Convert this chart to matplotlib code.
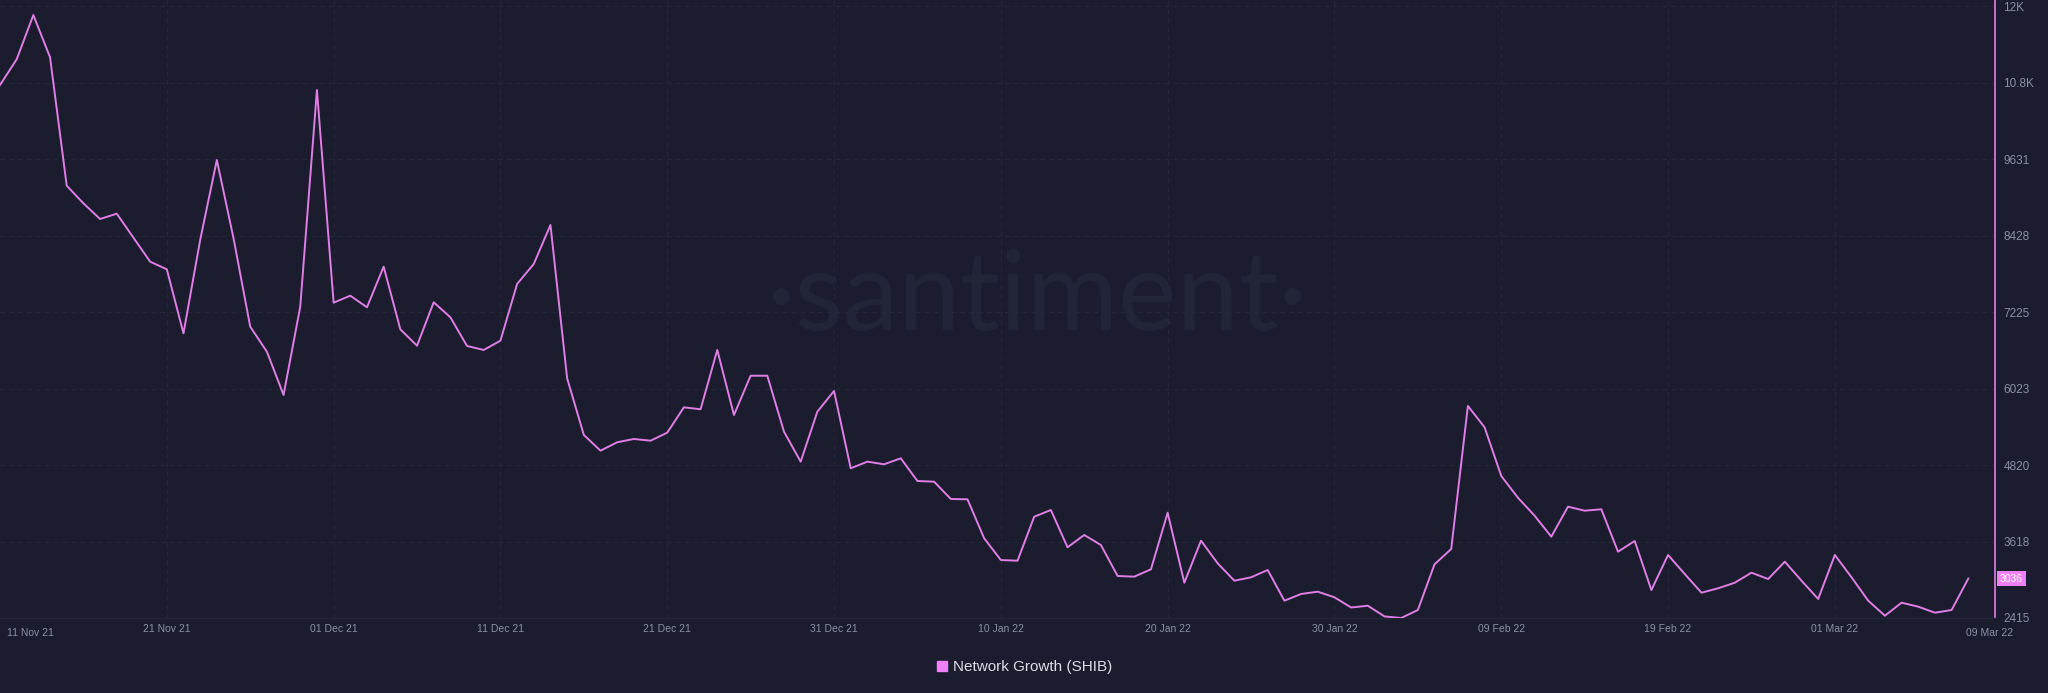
"""Santiment-style network growth chart for SHIB, dark theme."""
import matplotlib
matplotlib.use("Agg")
import matplotlib.pyplot as plt
import matplotlib.dates as mdates
import matplotlib.transforms as mtransforms
from matplotlib.lines import Line2D
import numpy as np
import pandas as pd

# daily values, 11 Nov 2021 .. 09 Mar 2022
start_date = "2021-11-11"
network_growth = [
    10799, 11203, 11900, 11235, 9215, 8938, 8691, 8775, 8397, 8020,
    7900, 6893, 8360, 9619, 8388, 6998, 6604, 5923, 7312, 10720,
    7375, 7485, 7302, 7941, 6956, 6698, 7381, 7145, 6694, 6631,
    6777, 7669, 7984, 8597, 6185, 5294, 5047, 5179, 5231, 5204,
    5330, 5729, 5698, 6631, 5608, 6226, 6226, 5346, 4874, 5660,
    5986, 4770, 4874, 4833, 4927, 4570, 4559, 4287, 4282, 3669,
    3327, 3316, 4008, 4114, 3527, 3721, 3563, 3076, 3065, 3181,
    4071, 2970, 3631, 3275, 3002, 3055, 3170, 2687, 2793, 2829,
    2741, 2580, 2608, 2440, 2415, 2541, 3260, 3500, 5750, 5415,
    4649, 4307, 4024, 3694, 4166, 4103, 4125, 3458, 3626, 2855,
    3406, 3107, 2813, 2882, 2970, 3128, 3028, 3301, 3002, 2714,
    3406, 3055, 2687, 2451, 2656, 2593, 2498, 2541, 3036,
]
y_ticks = [2415, 3618, 4820, 6023, 7225, 8428, 9631, 10833, 12036]
y_tick_labels = ["2415", "3618", "4820", "6023", "7225", "8428", "9631",
                 "10.8K", "12K"]
last_label = "3036"
series_name = "Network Growth (SHIB)"

BG = "#1b1d2e"
LINE = "#e07ee6"
TAG = "#f080f5"
GRID = "#25283b"
TICK = "#8b90a3"

dates = pd.date_range(start_date, periods=len(network_growth), freq="D")

plt.rcParams["font.family"] = ["Liberation Sans", "DejaVu Sans"]

fig = plt.figure(figsize=(20.48, 6.93), dpi=100, facecolor=BG)
ax = fig.add_axes([0, 75 / 693, 1995 / 2048, 618 / 693])
ax.set_facecolor(BG)

ax.plot(dates, network_growth, color=LINE, lw=1.4, zorder=3)

x0 = mdates.date2num(dates[0])
ax.set_xlim(x0, x0 + 119.6)
ax.set_ylim(2415, 12136)

# watermark
ax.text(0.52, 0.466, "·santiment·", transform=ax.transAxes, ha="center",
        va="baseline", fontsize=80, color="#222538",
        family=["Lato", "DejaVu Sans"], zorder=1)

# y axis on the right
ax.yaxis.tick_right()
ax.set_yticks(y_ticks)
ax.set_yticklabels(y_tick_labels)
ax.tick_params(axis="y", length=0, pad=6, labelsize=8.5, labelcolor=TICK)

# date ticks every 10 days, edge labels drawn separately
inner = dates[10:111:10]
ax.set_xticks(inner)
ax.xaxis.set_major_formatter(mdates.DateFormatter("%d %b %y"))
ax.tick_params(axis="x", length=0, pad=4, labelsize=7.5, labelcolor=TICK)

trans = mtransforms.blended_transform_factory(ax.transData, ax.transAxes)
ax.text(dates[0], -0.016, dates[0].strftime("%d %b %y"), transform=trans
        + mtransforms.ScaledTranslation(7 / 100, 0, fig.dpi_scale_trans),
        ha="left", va="top", fontsize=7.5, color=TICK)
ax.text(dates[-1], -0.016, dates[-1].strftime("%d %b %y"), transform=trans
        + mtransforms.ScaledTranslation(21 / 100, 0, fig.dpi_scale_trans),
        ha="center", va="top", fontsize=7.5, color=TICK)

ax.grid(True, color=GRID, ls=(0, (4, 4)), lw=0.8, zorder=0)

for side in ("top", "left"):
    ax.spines[side].set_visible(False)
ax.spines["right"].set_color(LINE)
ax.spines["right"].set_linewidth(1.2)
ax.spines["bottom"].set_color("#242739")
ax.spines["bottom"].set_linewidth(1.0)

# last value tag on the axis
tag_trans = mtransforms.blended_transform_factory(ax.transAxes, ax.transData)
ax.text(1.0, network_growth[-1], last_label, transform=tag_trans
        + mtransforms.ScaledTranslation(5 / 100, 0, fig.dpi_scale_trans),
        ha="left", va="center", fontsize=7.5, color="white",
        bbox=dict(boxstyle="square,pad=0.25", fc=TAG, ec="none"),
        clip_on=False)

handle = Line2D([], [], marker="s", ls="none", color=TAG, markersize=7)
fig.legend([handle], [series_name], loc="center",
           bbox_to_anchor=(1024 / 2048, 26 / 693), frameon=False,
           fontsize=11, labelcolor="#dcdde6", handletextpad=0.3,
           handlelength=0.8)

fig.savefig("out.png", dpi=100, facecolor=BG)
